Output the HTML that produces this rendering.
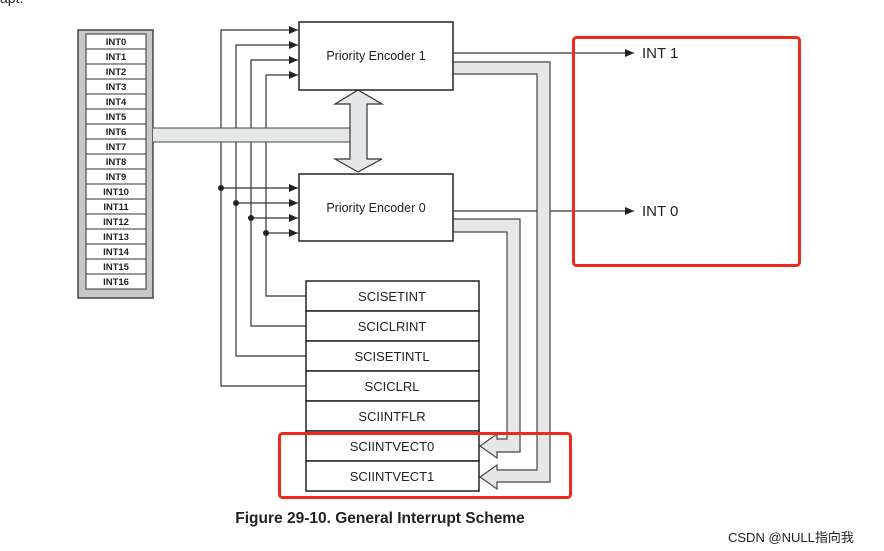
<!DOCTYPE html>
<html><head><meta charset="utf-8"><style>
body{margin:0;background:#fff;width:884px;height:551px;overflow:hidden}
svg{display:block}
text{font-family:"Liberation Sans",Arial,sans-serif;fill:#222}
</style></head><body>
<svg width="884" height="551" viewBox="0 0 884 551">
<defs><marker id="a" markerWidth="10" markerHeight="8" refX="9" refY="4" orient="auto" markerUnits="userSpaceOnUse"><path d="M0,0 L9,4 L0,8 Z" fill="#222"/></marker></defs>
<text x="0" y="3" font-size="14">apt.</text>
<!-- INT list -->
<rect x="78" y="30" width="75" height="268" fill="#c8c8c8" stroke="#444" stroke-width="1.5"/>
<g font-size="9.5" text-anchor="middle" stroke="#333">
<g fill="#fff">
<rect x="86" y="34" width="60" height="15"/><rect x="86" y="49" width="60" height="15"/><rect x="86" y="64" width="60" height="15"/><rect x="86" y="79" width="60" height="15"/><rect x="86" y="94" width="60" height="15"/><rect x="86" y="109" width="60" height="15"/><rect x="86" y="124" width="60" height="15"/><rect x="86" y="139" width="60" height="15"/><rect x="86" y="154" width="60" height="15"/><rect x="86" y="169" width="60" height="15"/><rect x="86" y="184" width="60" height="15"/><rect x="86" y="199" width="60" height="15"/><rect x="86" y="214" width="60" height="15"/><rect x="86" y="229" width="60" height="15"/><rect x="86" y="244" width="60" height="15"/><rect x="86" y="259" width="60" height="15"/><rect x="86" y="274" width="60" height="15"/>
</g>
<g stroke="none" font-weight="bold">
<text x="116" y="45">INT0</text><text x="116" y="60">INT1</text><text x="116" y="75">INT2</text><text x="116" y="90">INT3</text><text x="116" y="105">INT4</text><text x="116" y="120">INT5</text><text x="116" y="135">INT6</text><text x="116" y="150">INT7</text><text x="116" y="165">INT8</text><text x="116" y="180">INT9</text><text x="116" y="195">INT10</text><text x="116" y="210">INT11</text><text x="116" y="225">INT12</text><text x="116" y="240">INT13</text><text x="116" y="255">INT14</text><text x="116" y="270">INT15</text><text x="116" y="285">INT16</text>
</g></g>
<!-- lines -->
<g stroke="#333" stroke-width="1.2" fill="none">
<path d="M306,386 H221 V30 H298" marker-end="url(#a)"/>
<path d="M306,356 H236 V45 H298" marker-end="url(#a)"/>
<path d="M306,326 H251 V60 H298" marker-end="url(#a)"/>
<path d="M306,296 H266 V75 H298" marker-end="url(#a)"/>
<path d="M221,188 H298" marker-end="url(#a)"/>
<path d="M236,203 H298" marker-end="url(#a)"/>
<path d="M251,218 H298" marker-end="url(#a)"/>
<path d="M266,233 H298" marker-end="url(#a)"/>
<path d="M453,53 H634" marker-end="url(#a)"/>
<path d="M453,211 H634" marker-end="url(#a)"/>
</g>
<g fill="#222"><circle cx="221" cy="188" r="3"/><circle cx="236" cy="203" r="3"/><circle cx="251" cy="218" r="3"/><circle cx="266" cy="233" r="3"/></g>
<!-- bus from list -->
<path d="M153,128 H350 M153,142 H350" stroke="#444" stroke-width="1"/>
<rect x="153" y="128.5" width="198" height="13" fill="#e6e7e8"/>
<path d="M358,90 L382,104 L367,104 L367,159 L382,159 L358,172 L335,159 L350,159 L350,104 L335,104 Z" fill="#e6e7e8" stroke="#333" stroke-width="1.2"/>
<!-- buses to vectors -->
<path d="M453,62 H550 V482 H497 V489 L480,477 L497,465 V470 H537 V74 H453" fill="#e6e7e8" stroke="#444" stroke-width="1.2"/>
<path d="M453,219 H520 V452 H497 V458 L480,446 L497,434 V439 H507 V232 H453" fill="#e6e7e8" stroke="#444" stroke-width="1.2"/>
<!-- boxes -->
<rect x="299" y="22" width="154" height="68" fill="#fff" stroke="#222" stroke-width="1.5"/>
<rect x="299" y="174" width="154" height="67" fill="#fff" stroke="#222" stroke-width="1.5"/>
<text x="376" y="60" font-size="12.5" text-anchor="middle">Priority Encoder 1</text>
<text x="376" y="212" font-size="12.5" text-anchor="middle">Priority Encoder 0</text>
<g fill="#fff" stroke="#222" stroke-width="1.5">
<rect x="306" y="281" width="173" height="30"/><rect x="306" y="311" width="173" height="30"/><rect x="306" y="341" width="173" height="30"/><rect x="306" y="371" width="173" height="30"/><rect x="306" y="401" width="173" height="30"/><rect x="306" y="431" width="173" height="30"/><rect x="306" y="461" width="173" height="30"/>
</g>
<g font-size="13" text-anchor="middle">
<text x="392" y="301">SCISETINT</text><text x="392" y="331">SCICLRINT</text><text x="392" y="361">SCISETINTL</text><text x="392" y="391">SCICLRL</text><text x="392" y="421">SCIINTFLR</text><text x="392" y="451">SCIINTVECT0</text><text x="392" y="481">SCIINTVECT1</text>
</g>
<text x="642" y="58" font-size="15">INT 1</text>
<text x="642" y="216" font-size="15">INT 0</text>
<rect x="573.5" y="37.5" width="226" height="228" rx="3" fill="none" stroke="#ee2a1f" stroke-width="3"/>
<rect x="279.5" y="433.5" width="291" height="64" rx="3" fill="none" stroke="#ee2a1f" stroke-width="3"/>
<text x="380" y="523" font-size="15.5" font-weight="bold" text-anchor="middle" fill="#111">Figure 29-10. General Interrupt Scheme</text>
<text x="728" y="542" font-size="13" fill="#999" style="font-family:'Liberation Sans','Noto Sans CJK SC',sans-serif">CSDN @NULL指向我</text>
</svg>
</body></html>
